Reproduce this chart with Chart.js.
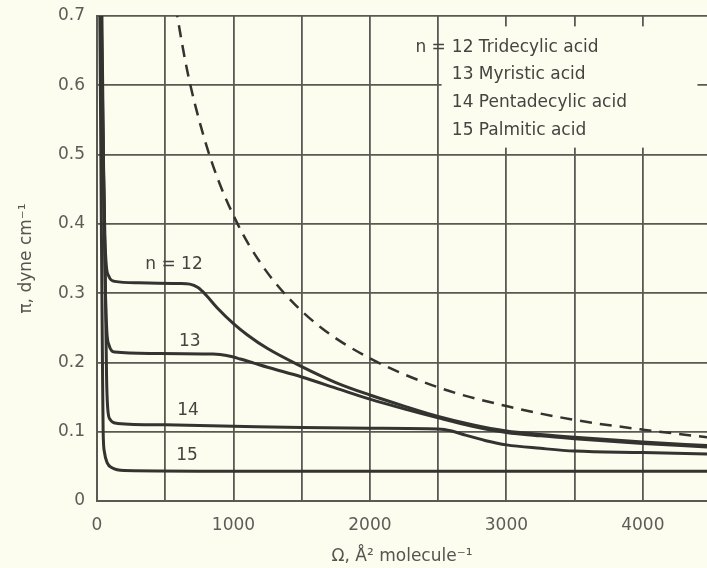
<!DOCTYPE html>
<html>
<head>
<meta charset="utf-8">
<script src="https://cdn.jsdelivr.net/npm/chart.js@4.4.1/dist/chart.umd.min.js"></script>
<style>
  html, body { margin: 0; padding: 0; background: #fcfcef; }
</style>
</head>
<body>
<canvas id="chart" width="707" height="568"></canvas>
<script>
// values (area in A^2/molecule, pi in dyne/cm)
const area12 = [25, 45, 58, 68, 85, 130, 300, 600, 680, 740, 800, 880, 1000, 1100, 1250, 1500, 1750, 2000, 2250, 2500, 2750, 3000, 3250, 3500, 4000, 4470];
const pi12   = [0.72, 0.5, 0.38, 0.34, 0.325, 0.317, 0.315, 0.314, 0.313, 0.308, 0.297, 0.279, 0.256, 0.24, 0.22, 0.194, 0.171, 0.153, 0.137, 0.122, 0.11, 0.101, 0.096, 0.092, 0.085, 0.08];

const area13 = [30, 50, 62, 72, 88, 130, 400, 850, 950, 1050, 1150, 1250, 1500, 1750, 2000, 2250, 2500, 2750, 3000, 3250, 3500, 4000, 4470];
const pi13   = [0.72, 0.45, 0.3, 0.245, 0.225, 0.215, 0.213, 0.212, 0.21, 0.205, 0.199, 0.193, 0.179, 0.163, 0.147, 0.133, 0.12, 0.108, 0.099, 0.094, 0.09, 0.083, 0.078];

const area14 = [35, 50, 62, 70, 78, 95, 150, 500, 1000, 1500, 2000, 2500, 2600, 2700, 2850, 3000, 3250, 3500, 4000, 4470];
const pi14   = [0.72, 0.45, 0.3, 0.18, 0.135, 0.118, 0.112, 0.11, 0.108, 0.106, 0.105, 0.104, 0.101, 0.095, 0.087, 0.081, 0.076, 0.072, 0.07, 0.068];

const area15 = [20, 32, 40, 45, 55, 75, 110, 200, 1000, 2000, 3000, 4000, 4470];
const pi15   = [0.72, 0.4, 0.2, 0.1, 0.07, 0.055, 0.048, 0.044, 0.043, 0.043, 0.043, 0.043, 0.043];

// dashed reference curve
const areaIdeal = [575, 650, 720, 850, 1030, 1200, 1390, 1650, 2000, 2500, 3000, 3500, 4000, 4470];
const piIdeal   = [0.715, 0.632, 0.571, 0.484, 0.4, 0.343, 0.296, 0.249, 0.206, 0.164, 0.137, 0.117, 0.103, 0.092];

const xGrid = [0, 500, 1000, 1500, 2000, 2500, 3000, 3500, 4000];
const xLabels = ['0', '', '1000', '', '2000', '', '3000', '', '4000'];
const yGrid = [0, 0.1, 0.2, 0.3, 0.4, 0.5, 0.6, 0.7];
const yLabels = ['0', '0.1', '0.2', '0.3', '0.4', '0.5', '0.6', '0.7'];

// curve labels, placed in data units
const curveTags = ['n = 12', '13', '14', '15'];
const tagArea = [564, 680, 667, 660];
const tagPi = [0.341, 0.23, 0.13, 0.065];

// key in the upper right
const keyNumbers = ['12', '13', '14', '15'];
const keyNames = ['Tridecylic acid', 'Myristic acid', 'Pentadecylic acid', 'Palmitic acid'];
const keyPi = [0.655, 0.616, 0.575, 0.535];
const keyArea = 2600;
const keyBoxArea = [2525, 4400];
const keyBoxPi = [0.685, 0.51];

const ink = '#333330';
const gridInk = '#5a5a54';
const paper = '#fcfcef';
const font = "'DejaVu Sans', sans-serif";

function pts(xs, ys) {
    return xs.map((v, i) => ({ x: v, y: ys[i] }));
}

function curve(xs, ys, dashed) {
    return {
        data: pts(xs, ys),
        showLine: true,
        borderColor: ink,
        borderWidth: dashed ? 2.5 : 3,
        borderDash: dashed ? [12, 8] : [],
        pointRadius: 0,
        cubicInterpolationMode: 'monotone',
        fill: false
    };
}

const notes = {
    id: 'notes',
    beforeDatasetsDraw(chart) {
        const { ctx, scales: { x, y } } = chart;
        ctx.save();
        // blank box behind the key
        const bx0 = x.getPixelForValue(keyBoxArea[0]);
        const bx1 = x.getPixelForValue(keyBoxArea[1]);
        const by0 = y.getPixelForValue(keyBoxPi[0]);
        const by1 = y.getPixelForValue(keyBoxPi[1]);
        ctx.fillStyle = paper;
        ctx.fillRect(bx0, by0, bx1 - bx0, by1 - by0);

        ctx.fillStyle = '#444440';
        ctx.font = '17px ' + font;
        ctx.textBaseline = 'middle';
        const kx = x.getPixelForValue(keyArea);
        keyNumbers.forEach((num, i) => {
            const ky = y.getPixelForValue(keyPi[i]);
            ctx.textAlign = 'left';
            ctx.fillText(num + ' ' + keyNames[i], kx, ky);
            if (i === 0) {
                ctx.textAlign = 'right';
                ctx.fillText('n =', kx - 6, ky);
            }
        });
        ctx.restore();
    },
    afterDatasetsDraw(chart) {
        const { ctx, scales: { x, y } } = chart;
        ctx.save();
        ctx.fillStyle = '#444440';
        ctx.font = '17px ' + font;
        ctx.textAlign = 'center';
        ctx.textBaseline = 'middle';
        curveTags.forEach((t, i) => {
            ctx.fillText(t, x.getPixelForValue(tagArea[i]), y.getPixelForValue(tagPi[i]));
        });
        ctx.restore();
    }
};

new Chart(document.getElementById('chart'), {
    type: 'scatter',
    data: {
        datasets: [
            curve(area12, pi12),
            curve(area13, pi13),
            curve(area14, pi14),
            curve(area15, pi15),
            curve(areaIdeal, piIdeal, true)
        ]
    },
    options: {
        responsive: false,
        animation: false,
        layout: { padding: { top: 16, right: 0, left: 0, bottom: 0 } },
        plugins: { legend: { display: false }, tooltip: { enabled: false } },
        scales: {
            x: {
                type: 'linear',
                min: 0,
                max: 4470,
                afterBuildTicks: s => { s.ticks = xGrid.map(v => ({ value: v })); },
                afterFit: s => { s.height = 67; s.paddingLeft = 0; s.paddingRight = 0; },
                grid: { color: gridInk, lineWidth: 1.8, drawTicks: false },
                border: { color: gridInk, width: 2 },
                ticks: {
                    padding: 14,
                    color: '#5c5c58',
                    font: { family: font, size: 17 },
                    maxRotation: 0,
                    autoSkip: false,
                    callback: (v, i) => xLabels[i]
                },
                title: {
                    display: true,
                    text: 'Ω, Å² molecule⁻¹',
                    color: '#55554f',
                    font: { family: font, size: 17 },
                    padding: { top: 0, bottom: 1 }
                }
            },
            y: {
                min: 0,
                max: 0.7,
                afterBuildTicks: s => { s.ticks = yGrid.map(v => ({ value: v })); },
                afterFit: s => { s.width = 97; s.paddingTop = 0; s.paddingBottom = 0; },
                grid: { color: gridInk, lineWidth: 1.8, drawTicks: false },
                border: { color: gridInk, width: 2 },
                ticks: {
                    padding: 12,
                    color: '#5c5c58',
                    font: { family: font, size: 17 },
                    autoSkip: false,
                    callback: (v, i) => yLabels[i]
                },
                title: {
                    display: true,
                    text: 'π, dyne cm⁻¹',
                    color: '#55554f',
                    font: { family: font, size: 17 },
                    padding: { top: 16, bottom: 0 }
                }
            }
        }
    },
    plugins: [notes]
});
</script>
</body>
</html>
